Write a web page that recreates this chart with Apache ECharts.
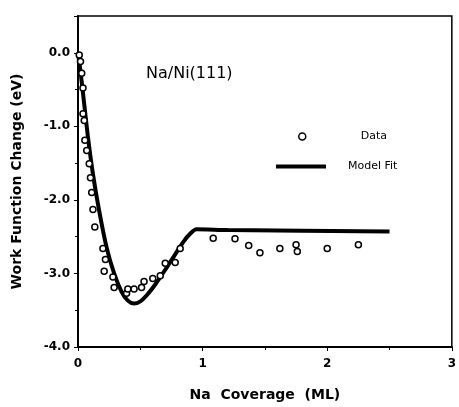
<!DOCTYPE html>
<html>
<head>
<meta charset="utf-8">
<script src="https://cdn.jsdelivr.net/npm/echarts@6/dist/echarts.min.js"></script>
<style>html,body{margin:0;padding:0;background:#fff;}#c{width:459px;height:407px;}</style>
</head>
<body>
<div id="c"></div>
<script>
// Measured data (Na coverage in ML, work function change in eV)
const dataX = [0.01, 0.02, 0.03, 0.04, 0.04, 0.05, 0.055, 0.07, 0.09, 0.10, 0.11, 0.12, 0.135,
  0.20, 0.22, 0.21, 0.28, 0.29, 0.39, 0.40, 0.45, 0.51, 0.53, 0.60, 0.66, 0.70, 0.78, 0.82,
  1.085, 1.26, 1.37, 1.46, 1.62, 1.75, 1.76, 2.00, 2.25];
const dataY = [-0.03, -0.12, -0.28, -0.48, -0.83, -0.92, -1.19, -1.33, -1.51, -1.70, -1.90, -2.13, -2.37,
  -2.66, -2.81, -2.97, -3.05, -3.19, -3.27, -3.21, -3.21, -3.19, -3.11, -3.07, -3.03, -2.86, -2.85, -2.66,
  -2.52, -2.53, -2.62, -2.72, -2.66, -2.61, -2.70, -2.66, -2.61];
// Model fit curve
const fitX = [0, 0.02, 0.05, 0.08, 0.12, 0.17, 0.23, 0.29, 0.35, 0.40, 0.45, 0.50, 0.55, 0.62, 0.70, 0.78, 0.85, 0.90, 0.95, 1.2, 2.5];
const fitY = [0, -0.25, -0.7, -1.15, -1.65, -2.15, -2.65, -3.0, -3.25, -3.37, -3.41, -3.38, -3.30, -3.15, -2.95, -2.74, -2.56, -2.46, -2.40, -2.41, -2.43];
// Axis ticks
const xTicks = [0, 1, 2, 3];
const yTicks = [-4, -3, -2, -1, 0];

const pts = dataX.map((x, i) => [x, dataY[i]]);
const fit = fitX.map((x, i) => [x, fitY[i]]);

const chart = echarts.init(document.getElementById('c'), null, {renderer: 'canvas'});
const font = 'DejaVu Sans, Liberation Sans, sans-serif';
chart.setOption({
  animation: false,
  backgroundColor: '#fff',
  grid: {left: 78, right: 3, top: 16, bottom: 55, show: true, borderColor: '#000', borderWidth: 1.5},
  title: {
    text: 'Na/Ni(111)', left: 146, top: 66, padding: 0,
    textStyle: {fontFamily: font, fontSize: 16, fontWeight: 'normal', color: '#000'}
  },
  legend: [{
    data: [{name: 'Data', icon: 'circle', itemStyle: {color: '#fff', borderColor: '#000', borderWidth: 1.5}}],
    left: 298, top: 131, padding: 0, itemWidth: 7, itemHeight: 7,
    textStyle: {fontFamily: font, fontSize: 11, color: '#000', padding: [0, 0, 0, 50]}
  }, {
    data: [{name: 'Model Fit', icon: 'rect', itemStyle: {color: '#000'}}],
    left: 276, top: 161, padding: 0, itemWidth: 50, itemHeight: 4,
    textStyle: {fontFamily: font, fontSize: 11, color: '#000', padding: [0, 0, 0, 17]}
  }],
  xAxis: [{
    type: 'value', min: xTicks[0], max: xTicks[xTicks.length - 1], interval: 1,
    name: 'Na  Coverage  (ML)', nameLocation: 'middle', nameGap: 41,
    nameTextStyle: {fontFamily: font, fontSize: 14, fontWeight: 'bold', color: '#000'},
    axisLine: {onZero: false, lineStyle: {color: '#000', width: 2}},
    axisTick: {show: true, length: 4, lineStyle: {color: '#000', width: 1}},
    minorTick: {show: true, splitNumber: 2, length: 3, lineStyle: {color: '#000'}},
    axisLabel: {fontFamily: font, fontSize: 12, fontWeight: 'bold', color: '#000', margin: 11},
    splitLine: {show: false}
  }],
  yAxis: [{
    type: 'value', min: yTicks[0], max: 0.5, interval: 1,
    name: 'Work Function Change (eV)', nameLocation: 'middle', nameGap: 54,
    nameTextStyle: {fontFamily: font, fontSize: 14, fontWeight: 'bold', color: '#000'},
    axisLine: {show: true, onZero: false, lineStyle: {color: '#000', width: 2}},
    axisTick: {show: true, length: 4, lineStyle: {color: '#000', width: 1}},
    minorTick: {show: true, splitNumber: 2, length: 3, lineStyle: {color: '#000'}},
    axisLabel: {fontFamily: font, fontSize: 12, fontWeight: 'bold', color: '#000', margin: 8,
      showMaxLabel: false, formatter: v => v.toFixed(1)},
    splitLine: {show: false}
  }],
  series: [{
    name: 'Model Fit', type: 'line', data: fit, smooth: 0.25, symbol: 'none',
    lineStyle: {color: '#000', width: 4}, z: 2
  }, {
    name: 'Data', type: 'scatter', data: pts, symbol: 'circle', symbolSize: 6,
    itemStyle: {color: '#fff', borderColor: '#000', borderWidth: 1.5, opacity: 1}, z: 3
  }]
});
</script>
</body>
</html>
